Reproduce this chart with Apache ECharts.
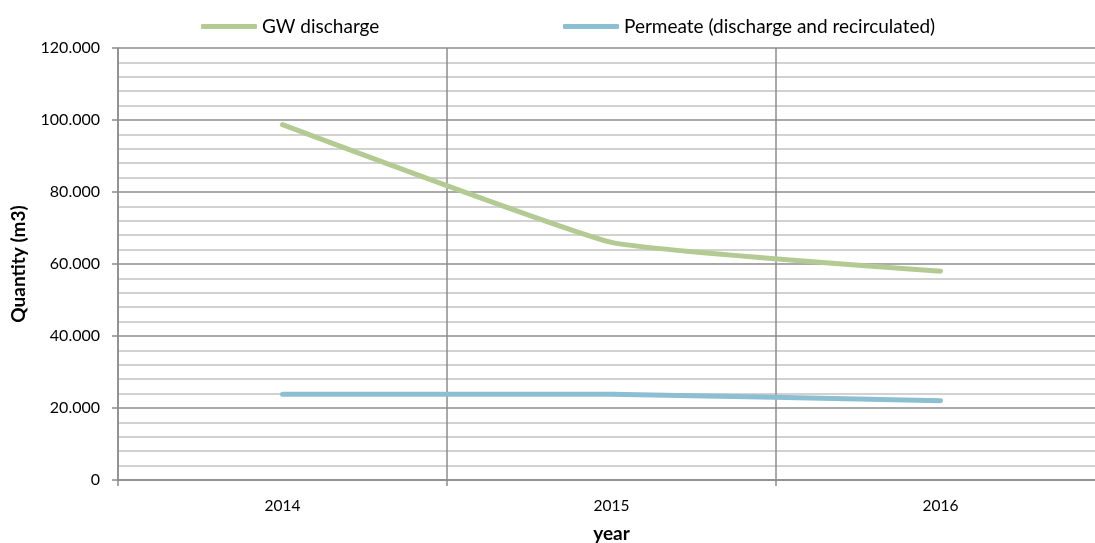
<!DOCTYPE html>
<html>
<head>
<meta charset="utf-8">
<script src="https://cdn.jsdelivr.net/npm/echarts@6/dist/echarts.min.js"></script>
<style>html,body{margin:0;padding:0;background:#fff}#c{width:1095px;height:543px}</style>
</head>
<body>
<div id="c"></div>
<script>
const categories = ['2014', '2015', '2016'];
const gwDischarge = [98700, 66000, 58000];
const permeate = [23800, 23800, 22000];
const seriesNames = ['GW discharge', 'Permeate (discharge and recirculated)'];

const FONT = 'Lato, "Open Sans", sans-serif';
const chart = echarts.init(document.getElementById('c'), null, {renderer: 'canvas'});
function fmt(v) {
  if (v === 0) return '0';
  const s = String(Math.round(v));
  return s.replace(/\B(?=(\d{3})+(?!\d))/g, '.');
}
chart.setOption({
  animation: false,
  textStyle: {fontFamily: FONT},
  legend: [
    {data: [seriesNames[0]], left: 196, top: 12, itemWidth: 56, itemHeight: 5, icon: 'roundRect',
     textStyle: {fontSize: 19, color: '#000', fontFamily: FONT}},
    {data: [seriesNames[1]], left: 558, top: 12, itemWidth: 56, itemHeight: 5, icon: 'roundRect',
     textStyle: {fontSize: 19, color: '#000', fontFamily: FONT}}
  ],
  grid: {left: 118, top: 48, bottom: 63, width: 987, containLabel: false, outerBoundsMode: 'none'},
  xAxis: {
    type: 'category', data: categories, boundaryGap: true,
    name: 'year', nameLocation: 'middle', nameGap: 44,
    nameTextStyle: {fontSize: 19, fontWeight: 'bold', color: '#000', fontFamily: FONT},
    axisLine: {lineStyle: {color: '#8c8c8c', width: 1.5}},
    axisTick: {show: true, length: 6, lineStyle: {color: '#8c8c8c', width: 1.5}},
    axisLabel: {fontSize: 15.5, color: '#000', margin: 18, fontFamily: FONT},
    splitLine: {show: true, lineStyle: {color: '#8c8c8c', width: 1.5}}
  },
  yAxis: {
    type: 'value', min: 0, max: 120000, interval: 20000,
    name: 'Quantity (m3)', nameLocation: 'middle', nameGap: 90, nameRotate: 90,
    nameTextStyle: {fontSize: 19, fontWeight: 'bold', color: '#000', fontFamily: FONT},
    axisLine: {show: true, lineStyle: {color: '#8c8c8c', width: 1.5}},
    axisTick: {show: true, length: 6, lineStyle: {color: '#8c8c8c', width: 1.5}},
    axisLabel: {fontSize: 16, color: '#000', margin: 18, formatter: fmt, fontFamily: FONT},
    splitLine: {show: true, lineStyle: {color: '#8c8c8c', width: 1.5}},
    minorTick: {show: false, splitNumber: 5},
    minorSplitLine: {show: true, lineStyle: {color: '#c4c4c4', width: 1.5}}
  },
  series: [
    {name: seriesNames[0], type: 'line', data: gwDischarge, smooth: 0.12, showSymbol: false,
     lineStyle: {color: '#b3cb93', width: 5, cap: 'round'}, itemStyle: {color: '#b3cb93'}},
    {name: seriesNames[1], type: 'line', data: permeate, smooth: 0.12, showSymbol: false,
     lineStyle: {color: '#8dbfd2', width: 5, cap: 'round'}, itemStyle: {color: '#8dbfd2'}}
  ]
});
</script>
</body>
</html>
